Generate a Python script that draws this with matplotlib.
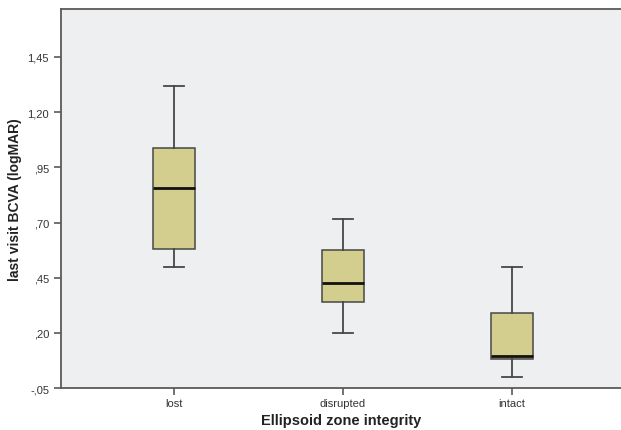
import numpy as np
import matplotlib
matplotlib.use("Agg")
import matplotlib.pyplot as plt

plt.rcParams["font.family"] = ["Liberation Sans", "DejaVu Sans"]

# box plot stats
groups = ["lost", "disrupted", "intact"]
whislo = [0.498, 0.198, 0.000]
q1 = [0.580, 0.339, 0.080]
med = [0.856, 0.427, 0.098]
q3 = [1.038, 0.577, 0.289]
whishi = [1.319, 0.716, 0.497]

yticks = [-0.05, 0.20, 0.45, 0.70, 0.95, 1.20, 1.45]
ytick_labels = ["-,05", ",20", ",45", ",70", ",95", "1,20", "1,45"]

stats = []
for i in range(len(groups)):
    stats.append(dict(label=groups[i], whislo=whislo[i], q1=q1[i], med=med[i],
                      q3=q3[i], whishi=whishi[i], fliers=[]))

fig = plt.figure(figsize=(6.21, 4.31), dpi=100)
ax = fig.add_axes([0.098, 0.097, 0.902, 0.88])
ax.set_facecolor("#eeeff1")

edge = "#474747"
ax.bxp(stats, positions=[1, 2, 3], widths=0.25, patch_artist=True,
       showfliers=False,
       boxprops=dict(facecolor="#d3cd8e", edgecolor=edge, linewidth=1.1),
       medianprops=dict(color="#111111", linewidth=2.0),
       whiskerprops=dict(color=edge, linewidth=1.3),
       capprops=dict(color=edge, linewidth=1.3),
       capwidths=0.12)

ax.set_xlim(0.33, 3.645)
ax.set_ylim(-0.05, 1.667)
ax.set_yticks(yticks)
ax.set_yticklabels(ytick_labels)
ax.set_xticks([1, 2, 3])
ax.set_xticklabels(groups)

for s in ["left", "bottom", "top"]:
    ax.spines[s].set_color("#5a5a5a")
    ax.spines[s].set_linewidth(1.3)
ax.spines["right"].set_visible(False)
ax.tick_params(axis="both", direction="out", length=5, width=1.2, color="#5a5a5a",
               labelsize=8, labelcolor="#333333")
ax.tick_params(axis="x", pad=2)

ax.set_ylabel("last visit BCVA (logMAR)", fontsize=10, fontweight="bold",
              color="#222222", labelpad=4)
ax.set_xlabel("Ellipsoid zone integrity", fontsize=10.5, fontweight="bold",
              color="#222222", labelpad=4)

plt.savefig("out.png", dpi=100)
